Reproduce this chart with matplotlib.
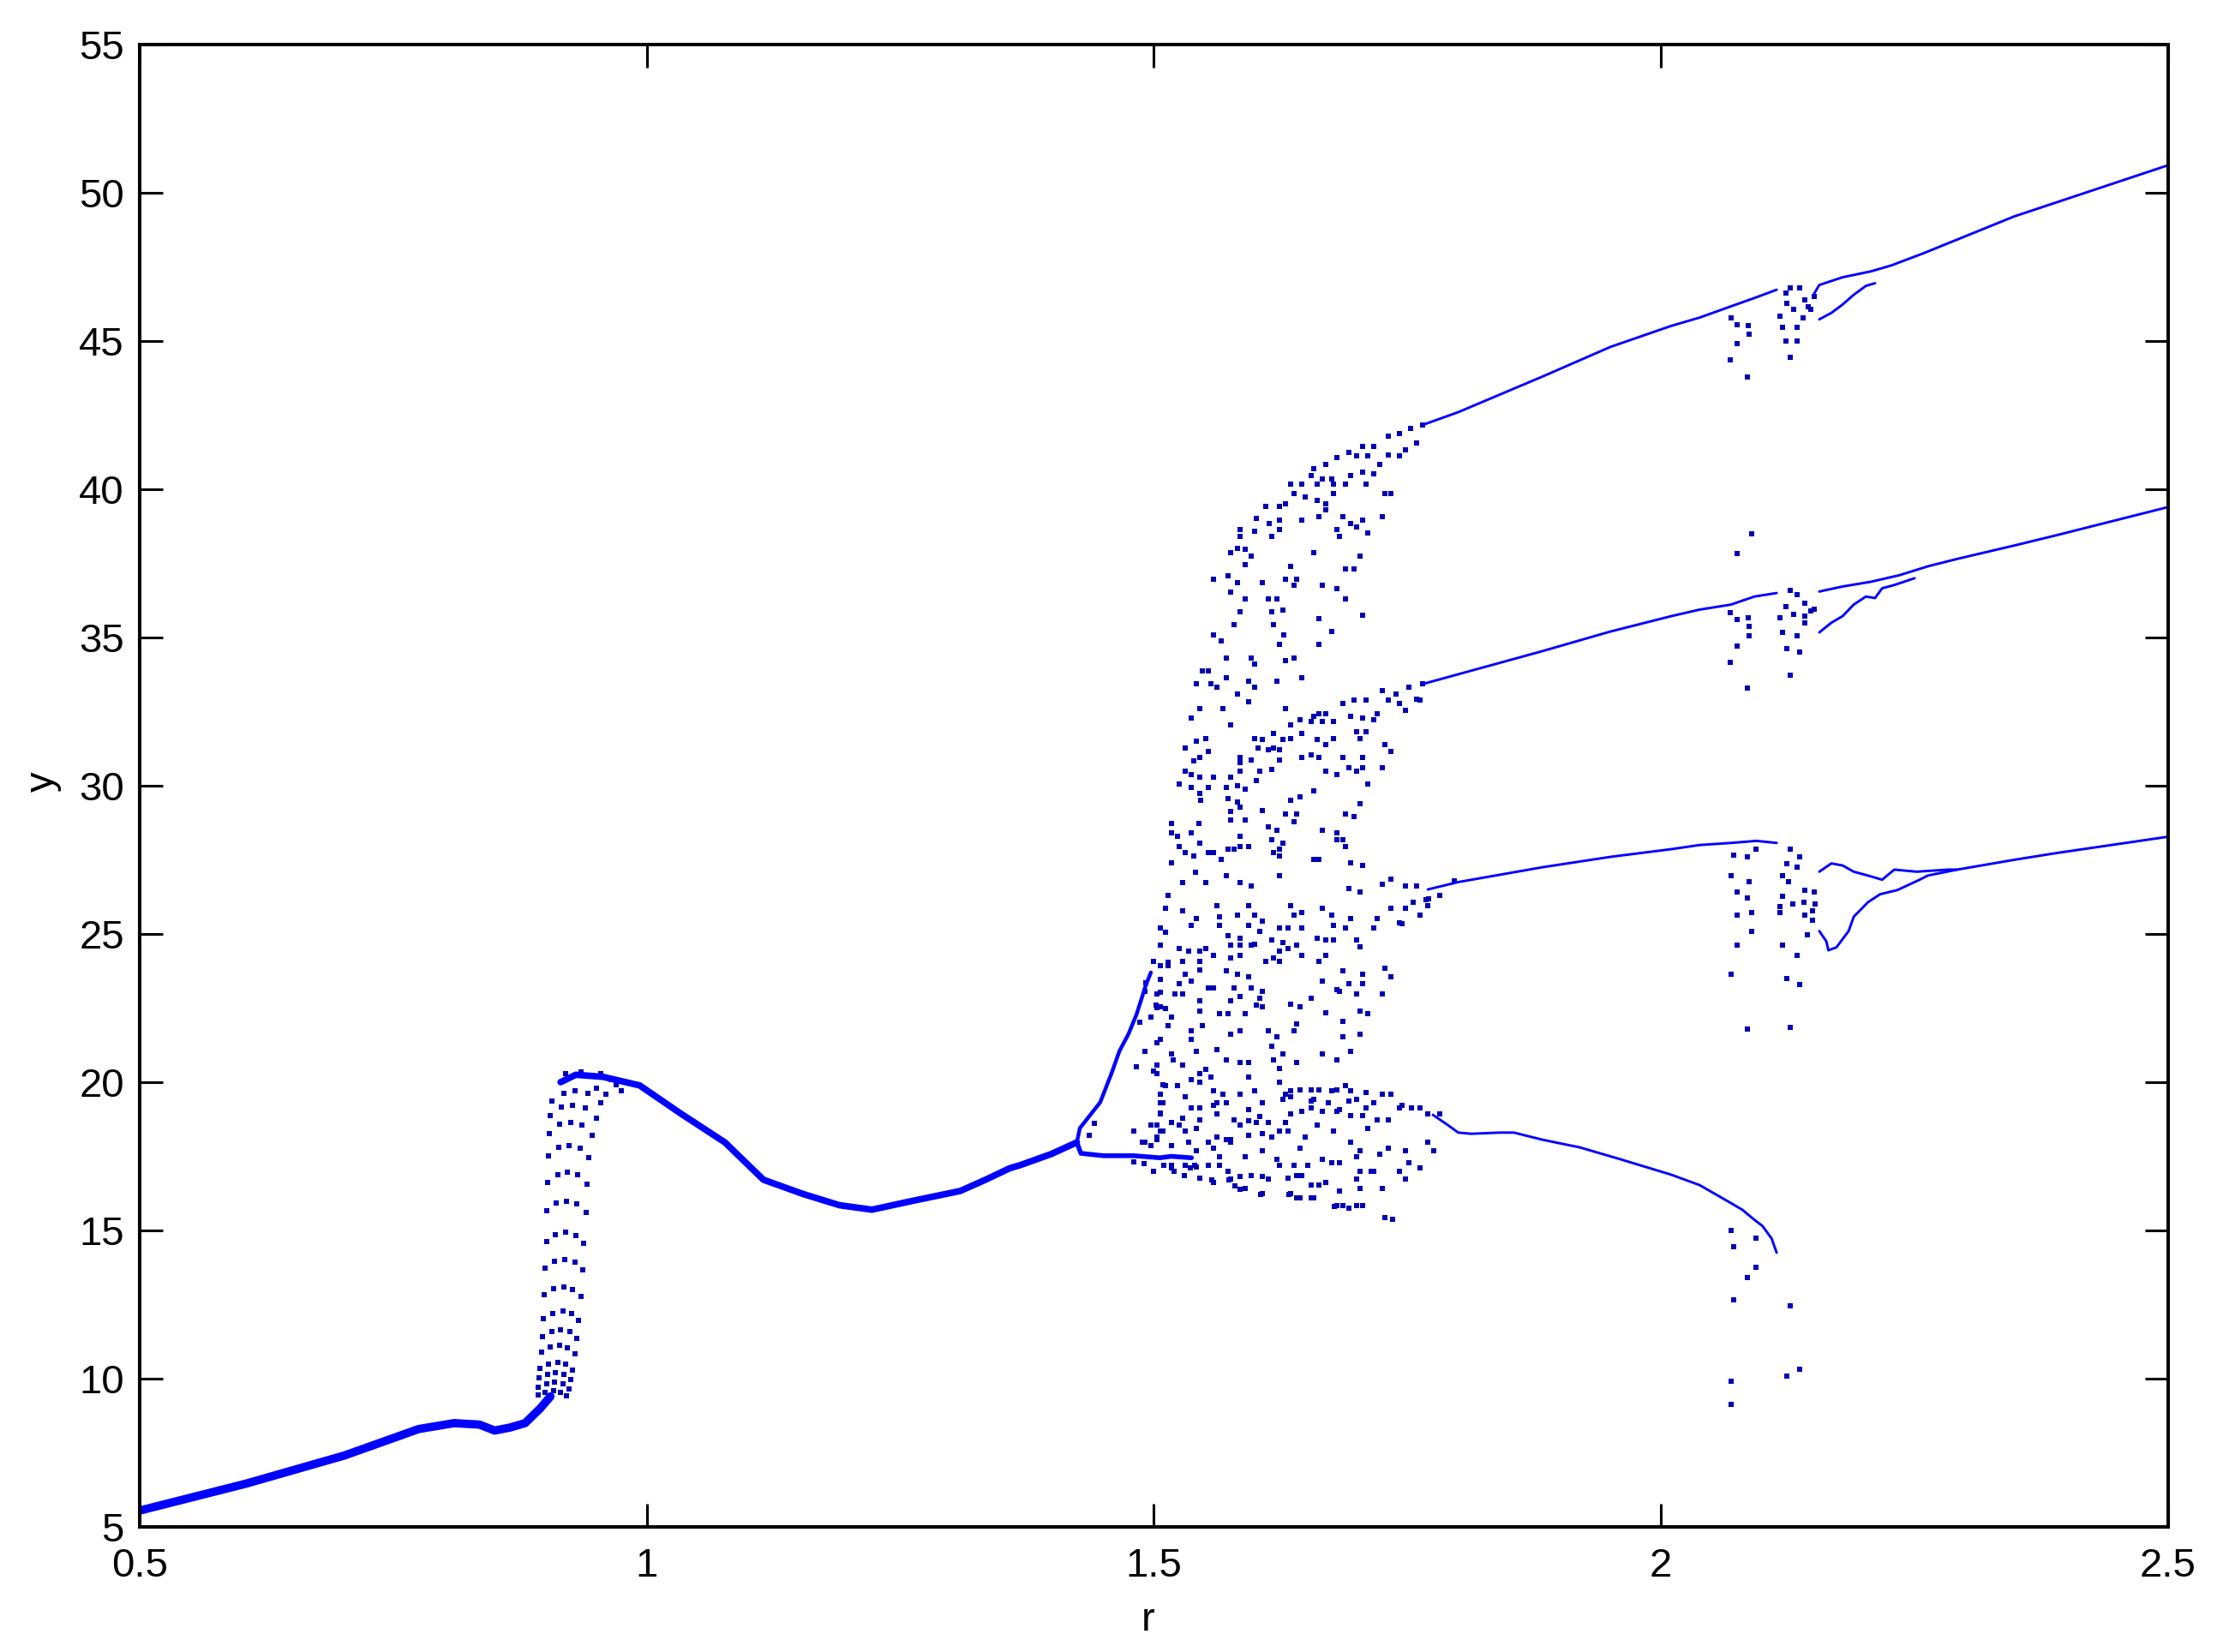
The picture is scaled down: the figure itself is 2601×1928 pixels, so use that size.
import matplotlib
matplotlib.use("Agg")
import matplotlib.pyplot as plt

plt.rcParams['font.family'] = ['Liberation Sans Narrow', 'Liberation Sans', 'DejaVu Sans']

# ---------------- data (r, y) ----------------
# period-1 branch, thick part at small r
main_left = [(0.5, 5.55), (0.605, 6.46), (0.702, 7.41), (0.775, 8.30), (0.81, 8.50),
             (0.835, 8.45), (0.85, 8.25), (0.865, 8.35), (0.88, 8.50), (0.895, 9.0), (0.905, 9.4)]

# transient "ladder" of the steep rise near r = 0.9
ladder = [
    (0.893, 9.45), (0.900, 9.55), (0.908, 9.59), (0.915, 9.55), (0.921, 9.42),
    (0.893, 9.72), (0.901, 9.83), (0.909, 9.87), (0.917, 9.82), (0.923, 9.66),
    (0.894, 10.02), (0.902, 10.15), (0.910, 10.21), (0.918, 10.15), (0.925, 9.98),
    (0.895, 10.34), (0.903, 10.49), (0.912, 10.55), (0.920, 10.48), (0.927, 10.30),
    (0.896, 10.90), (0.905, 11.07), (0.914, 11.13), (0.922, 11.05), (0.929, 10.85),
    (0.897, 11.42), (0.906, 11.60), (0.915, 11.66), (0.924, 11.58), (0.931, 11.36),
    (0.898, 12.02), (0.907, 12.21), (0.917, 12.28), (0.926, 12.19), (0.933, 11.96),
    (0.899, 12.82), (0.908, 13.03), (0.918, 13.10), (0.927, 13.01), (0.935, 12.76),
    (0.900, 13.72), (0.909, 13.95), (0.919, 14.02), (0.929, 13.93), (0.937, 13.66),
    (0.901, 14.62), (0.910, 14.86), (0.920, 14.93), (0.930, 14.84), (0.938, 14.56),
    (0.901, 15.66), (0.911, 15.92), (0.921, 15.99), (0.931, 15.90), (0.940, 15.60),
    (0.902, 16.62), (0.912, 16.89), (0.922, 16.96), (0.932, 16.87), (0.941, 16.56),
    (0.903, 17.52), (0.913, 17.80), (0.923, 17.87), (0.934, 17.78), (0.943, 17.46),
    (0.904, 18.28), (0.914, 18.57), (0.925, 18.64), (0.936, 18.55), (0.946, 18.22),
    (0.905, 18.86), (0.916, 19.15), (0.927, 19.22), (0.939, 19.13), (0.950, 18.80),
    (0.906, 19.36), (0.918, 19.63), (0.929, 19.70), (0.942, 19.62), (0.955, 19.30),
    (0.920, 20.30), (0.935, 20.35), (0.945, 20.20), (0.955, 20.30), (0.965, 20.10),
    (0.970, 19.90), (0.950, 19.80), (0.960, 19.60), (0.975, 19.70),
]

# period-1 branch after the rise, up to the first split
main_mid = [(0.915, 20.0), (0.93, 20.25), (0.957, 20.18), (0.993, 19.89), (1.034, 18.93),
            (1.077, 17.97), (1.115, 16.71), (1.154, 16.23), (1.19, 15.85), (1.222, 15.70),
            (1.261, 15.99), (1.309, 16.33), (1.334, 16.71), (1.358, 17.10), (1.368, 17.20),
            (1.399, 17.58), (1.424, 17.97)]

split_low = [(1.424, 17.97), (1.428, 17.60), (1.45, 17.52), (1.48, 17.52), (1.506, 17.45),
             (1.517, 17.50), (1.537, 17.45)]
split_up = [(1.424, 17.97), (1.427, 18.45), (1.447, 19.32), (1.458, 20.28), (1.466, 21.05),
            (1.475, 21.63), (1.483, 22.30), (1.492, 23.27), (1.497, 23.70)]
split_dots = [(1.492, 23.36), (1.503, 22.98), (1.503, 22.50), (1.497, 22.20), (1.503, 21.34),
              (1.500, 20.38), (1.509, 19.90), (1.509, 19.30), (1.506, 18.95), (1.503, 18.55),
              (1.480, 18.35), (1.491, 17.97), (1.497, 17.87), (1.503, 18.16), (1.509, 18.35),
              (1.436, 18.20), (1.441, 18.60), (1.517, 17.10), (1.531, 17.20), (1.536, 17.10),
              (1.540, 17.20), (1.557, 16.70), (1.574, 16.70), (1.580, 16.50), (1.585, 16.40),
              (1.605, 16.20), (1.633, 16.20), (1.641, 16.10), (1.655, 16.10), (1.678, 15.80),
              (1.480, 17.30), (1.490, 17.25), (1.500, 17.00), (1.510, 17.20), (1.520, 17.00),
              (1.530, 16.85), (1.545, 16.75)]

# chaotic cloud, upper band
cloud_top = [
    (1.706, 41.45), (1.717, 41.45), (1.731, 41.78), (1.742, 41.89), (1.753, 42.06), (1.765, 42.17),
    (1.742, 41.12), (1.759, 41.56), (1.731, 41.17), (1.748, 41.34),
    (1.680, 41.06), (1.692, 41.23), (1.700, 41.12), (1.711, 41.12),
    (1.658, 40.68), (1.669, 40.84), (1.655, 40.46), (1.666, 40.35), (1.675, 40.35), (1.694, 40.46),
    (1.706, 40.57), (1.717, 40.51), (1.723, 40.84),
    (1.635, 40.18), (1.646, 40.18), (1.661, 40.18), (1.677, 40.18), (1.689, 40.18), (1.709, 40.18),
    (1.638, 39.85), (1.649, 39.74), (1.677, 39.85), (1.728, 39.85), (1.734, 39.85),
    (1.610, 39.41), (1.624, 39.41), (1.630, 39.52), (1.661, 39.63), (1.669, 39.52), (1.669, 39.30),
    (1.601, 39.02), (1.614, 38.85), (1.624, 38.96), (1.624, 38.63), (1.646, 38.96), (1.663, 39.07),
    (1.686, 39.07), (1.694, 38.85), (1.706, 38.96), (1.725, 39.07),
    (1.585, 38.63), (1.585, 38.41), (1.599, 38.58), (1.616, 38.41), (1.680, 38.63), (1.683, 38.41),
    (1.700, 38.74), (1.711, 38.52),
    (1.576, 37.86), (1.582, 38.02), (1.590, 37.97), (1.596, 37.75), (1.590, 37.47), (1.658, 37.86),
    (1.703, 37.75), (1.635, 37.41), (1.689, 37.30), (1.697, 37.30),
    (1.559, 36.97), (1.573, 37.08), (1.582, 36.86), (1.576, 36.53), (1.607, 36.86), (1.630, 36.97),
    (1.641, 36.97), (1.638, 36.75), (1.666, 36.75), (1.680, 36.64),
    (1.590, 36.31), (1.613, 36.31), (1.621, 36.31), (1.689, 36.31),
    (1.585, 35.87), (1.616, 35.87), (1.627, 35.92), (1.706, 35.75),
    (1.579, 35.42), (1.618, 35.42), (1.663, 35.64),
    (1.559, 35.09), (1.566, 34.87), (1.628, 35.09), (1.675, 35.20),
    (1.624, 34.76), (1.663, 34.76),
    (1.571, 34.32), (1.596, 34.32), (1.599, 34.10), (1.630, 34.21), (1.638, 34.32),
    (1.548, 33.87), (1.554, 33.87), (1.571, 33.65), (1.593, 33.54), (1.621, 33.54), (1.646, 33.65),
    (1.542, 33.43), (1.556, 33.43), (1.562, 33.32), (1.599, 33.32),
]

# chaotic cloud, middle band
cloud_mid = [
    (1.686, 32.77), (1.697, 32.88), (1.709, 32.88), (1.725, 33.21), (1.739, 33.10), (1.751, 33.32),
    (1.765, 33.43), (1.731, 32.88), (1.742, 32.77), (1.748, 32.55), (1.759, 32.93), (1.762, 32.88),
    (1.720, 32.44), (1.717, 32.22), (1.663, 32.44), (1.669, 32.44), (1.658, 32.33), (1.644, 32.22),
    (1.655, 32.16), (1.666, 32.16), (1.677, 32.16), (1.694, 32.33), (1.706, 32.27), (1.709, 31.83),
    (1.700, 31.83),
    (1.582, 33.10), (1.593, 32.83), (1.545, 32.60), (1.568, 32.60), (1.630, 32.60), (1.537, 32.27),
    (1.576, 32.05), (1.635, 32.05),
    (1.618, 31.77), (1.627, 31.55), (1.635, 31.60), (1.646, 31.77), (1.661, 31.55), (1.669, 31.39),
    (1.677, 31.60), (1.703, 31.60), (1.728, 31.39), (1.734, 31.17),
    (1.531, 31.28), (1.542, 31.50), (1.551, 31.60), (1.554, 31.17), (1.599, 31.60), (1.607, 31.55),
    (1.603, 31.28), (1.613, 31.22), (1.618, 31.28), (1.624, 31.22),
    (1.539, 30.83), (1.545, 30.94), (1.585, 30.94), (1.596, 30.88), (1.624, 30.88), (1.646, 30.94),
    (1.655, 31.05), (1.663, 30.94), (1.686, 30.94), (1.706, 30.94),
    (1.531, 30.50), (1.537, 30.39), (1.585, 30.50), (1.585, 30.78), (1.616, 30.56), (1.604, 30.50),
    (1.669, 30.50), (1.680, 30.39), (1.692, 30.61), (1.700, 30.50), (1.706, 30.61), (1.725, 30.61),
    (1.525, 30.06), (1.537, 29.95), (1.545, 30.28), (1.554, 29.95), (1.559, 30.28), (1.571, 29.95),
    (1.576, 30.28), (1.582, 30.00), (1.590, 29.89), (1.601, 30.17), (1.658, 29.84), (1.711, 30.06),
    (1.545, 29.73), (1.546, 29.51), (1.573, 29.56), (1.582, 29.45), (1.585, 29.28), (1.635, 29.51),
    (1.644, 29.62), (1.703, 29.39),
    (1.517, 28.73), (1.544, 28.73), (1.576, 29.12), (1.576, 28.84), (1.590, 28.84), (1.607, 29.17),
    (1.630, 29.06), (1.641, 29.06), (1.638, 28.79), (1.689, 29.06), (1.697, 28.95),
    (1.517, 28.40), (1.523, 28.29), (1.537, 28.40), (1.545, 28.07), (1.585, 28.29), (1.613, 28.62),
    (1.621, 28.51), (1.616, 28.18), (1.627, 28.07), (1.666, 28.51), (1.680, 28.40), (1.680, 28.18),
    (1.686, 28.18),
    (1.525, 27.96), (1.531, 27.74), (1.539, 27.63), (1.554, 27.74), (1.559, 27.74), (1.566, 27.52),
    (1.573, 27.85), (1.579, 27.85), (1.585, 27.96), (1.593, 27.96), (1.618, 27.74), (1.624, 27.85),
    (1.624, 27.63), (1.689, 27.96),
    (1.517, 27.41), (1.541, 27.07), (1.571, 26.96), (1.624, 26.96), (1.658, 27.52), (1.663, 27.52),
    (1.694, 27.41), (1.706, 27.30),
    (1.514, 26.29), (1.528, 26.73), (1.551, 26.73), (1.585, 26.73), (1.596, 26.63),
    (1.692, 26.52), (1.703, 26.41), (1.725, 26.69), (1.734, 26.85), (1.748, 26.63), (1.759, 26.63),
    (1.796, 26.80), (1.782, 26.30), (1.771, 26.19),
]

# chaotic cloud, lower-middle band
cloud_low = [
    (1.734, 25.87), (1.748, 25.87), (1.756, 26.06), (1.768, 26.16), (1.742, 25.39), (1.762, 25.63),
    (1.770, 25.96),
    (1.511, 25.87), (1.528, 25.77), (1.562, 25.96), (1.593, 25.96), (1.635, 25.96), (1.666, 25.87),
    (1.542, 25.53), (1.565, 25.58), (1.582, 25.63), (1.599, 25.63), (1.607, 25.43), (1.638, 25.63),
    (1.646, 25.72), (1.675, 25.63), (1.694, 25.53), (1.720, 25.53),
    (1.506, 25.19), (1.537, 25.29), (1.565, 25.29), (1.593, 25.29), (1.604, 25.10), (1.624, 25.19),
    (1.632, 25.19), (1.646, 25.19), (1.677, 25.29), (1.689, 25.19), (1.717, 25.19), (1.745, 25.34),
    (1.511, 25.05), (1.573, 24.95), (1.585, 24.86), (1.599, 24.66), (1.616, 24.81), (1.627, 24.71),
    (1.641, 24.62), (1.661, 24.86), (1.669, 24.81), (1.677, 24.81), (1.700, 24.81), (1.703, 24.57),
    (1.506, 24.62), (1.525, 24.52), (1.534, 24.42), (1.545, 24.42), (1.551, 24.52), (1.576, 24.62),
    (1.585, 24.62), (1.596, 24.62), (1.624, 24.42), (1.632, 24.52), (1.646, 24.28), (1.669, 24.28),
    (1.500, 24.08), (1.514, 24.04), (1.528, 24.08), (1.545, 24.08), (1.559, 24.28), (1.576, 24.18),
    (1.585, 24.28), (1.610, 24.08), (1.618, 24.18), (1.624, 24.08), (1.663, 24.08),
    (1.506, 23.94), (1.514, 23.94), (1.531, 23.65), (1.545, 23.80), (1.571, 23.75), (1.582, 23.65),
    (1.593, 23.55), (1.686, 23.75), (1.706, 23.65), (1.728, 23.84), (1.734, 23.55),
    (1.506, 23.46), (1.525, 23.32), (1.537, 23.41), (1.554, 23.17), (1.559, 23.17), (1.579, 23.17),
    (1.596, 23.17), (1.607, 23.07), (1.666, 23.41), (1.680, 23.12), (1.692, 23.32), (1.706, 23.32),
    (1.491, 23.07), (1.506, 23.03), (1.521, 22.98), (1.528, 22.98), (1.585, 22.88), (1.604, 22.83),
    (1.655, 22.83), (1.683, 23.07), (1.700, 22.98), (1.725, 22.98),
    (1.502, 22.59), (1.506, 22.54), (1.511, 22.49), (1.545, 22.74), (1.576, 22.74), (1.601, 22.59),
    (1.607, 22.54), (1.635, 22.64), (1.644, 22.54),
    (1.497, 22.20), (1.517, 22.20), (1.545, 22.40), (1.565, 22.30), (1.573, 22.30), (1.590, 22.30),
    (1.669, 22.35), (1.703, 22.40), (1.711, 22.30),
    (1.486, 22.01), (1.514, 21.92), (1.537, 21.73), (1.548, 21.92), (1.585, 21.73), (1.613, 21.73),
    (1.641, 21.96), (1.686, 22.06), (1.638, 21.73),
    (1.506, 21.44), (1.537, 21.44), (1.576, 21.63), (1.621, 21.53), (1.686, 21.53), (1.703, 21.63),
    (1.491, 21.05), (1.542, 21.05), (1.562, 21.10), (1.616, 21.20), (1.694, 21.05),
    (1.517, 20.95), (1.571, 20.76), (1.585, 20.67), (1.593, 20.67), (1.618, 20.76), (1.627, 20.95),
    (1.641, 20.67), (1.666, 20.95), (1.680, 20.76),
    (1.483, 20.52), (1.503, 20.57), (1.519, 20.76), (1.528, 20.57), (1.545, 20.28), (1.551, 20.42),
    (1.556, 20.18), (1.624, 20.47), (1.593, 20.18),
    (1.503, 20.28), (1.511, 19.89), (1.523, 19.89), (1.537, 20.09), (1.545, 19.99), (1.624, 19.99),
    (1.689, 19.89),
]

# chaotic cloud, bottom band
cloud_bottom = [
    (1.506, 19.60), (1.531, 19.51), (1.559, 19.70), (1.568, 19.60), (1.585, 19.60), (1.599, 19.70),
    (1.630, 19.60), (1.635, 19.70), (1.644, 19.75), (1.655, 19.75), (1.663, 19.75), (1.675, 19.70),
    (1.680, 19.75), (1.694, 19.70), (1.709, 19.65), (1.725, 19.60), (1.734, 19.60),
    (1.506, 19.32), (1.537, 19.12), (1.545, 19.12), (1.562, 19.32), (1.571, 19.32), (1.593, 19.08),
    (1.607, 19.32), (1.627, 19.41), (1.635, 19.51), (1.655, 19.36), (1.658, 19.41), (1.672, 19.32),
    (1.683, 19.08), (1.692, 19.36), (1.700, 19.41), (1.709, 19.12), (1.717, 19.32), (1.745, 19.22),
    (1.506, 18.93), (1.528, 18.79), (1.545, 18.74), (1.559, 19.22), (1.562, 18.93), (1.579, 18.74),
    (1.593, 18.69), (1.604, 18.83), (1.613, 18.64), (1.630, 18.64), (1.635, 18.93), (1.646, 19.03),
    (1.655, 19.12), (1.666, 19.03), (1.680, 19.03), (1.694, 18.88), (1.706, 18.88), (1.720, 18.74),
    (1.731, 18.74), (1.742, 19.12), (1.754, 19.12), (1.762, 19.12), (1.770, 18.93), (1.782, 18.93),
    (1.770, 17.97), (1.776, 17.68), (1.762, 17.10), (1.748, 17.68), (1.731, 17.78), (1.742, 17.00),
    (1.748, 16.72), (1.751, 17.29), (1.717, 17.00),
    (1.497, 18.55), (1.506, 18.35), (1.517, 18.64), (1.525, 18.55), (1.531, 18.35), (1.542, 18.45),
    (1.554, 17.97), (1.562, 18.16), (1.571, 18.06), (1.576, 18.06), (1.585, 18.55), (1.593, 18.21),
    (1.601, 18.64), (1.607, 18.26), (1.616, 18.16), (1.624, 18.35), (1.632, 18.35), (1.649, 18.16),
    (1.661, 18.55), (1.677, 18.35), (1.694, 17.97), (1.703, 17.68), (1.711, 18.45), (1.723, 17.58),
    (1.489, 17.97), (1.503, 18.06), (1.517, 17.87), (1.534, 17.97), (1.542, 17.68), (1.559, 17.78),
    (1.565, 17.49), (1.576, 17.97), (1.590, 17.49), (1.607, 17.68), (1.621, 17.39), (1.624, 17.20),
    (1.638, 17.20), (1.644, 17.78), (1.652, 17.20), (1.666, 17.39), (1.675, 17.29), (1.683, 17.29),
    (1.700, 17.49), (1.703, 17.00), (1.714, 17.00),
    (1.517, 17.20), (1.531, 17.20), (1.542, 17.15), (1.554, 17.20), (1.565, 17.20), (1.573, 17.00),
    (1.585, 16.81), (1.590, 16.43), (1.596, 16.86), (1.607, 16.81), (1.613, 16.72), (1.632, 16.76),
    (1.641, 16.86), (1.646, 16.86), (1.655, 16.52), (1.663, 16.52), (1.669, 16.62), (1.683, 16.33),
    (1.700, 16.72), (1.703, 16.43), (1.725, 16.43),
    (1.559, 16.62), (1.576, 16.72), (1.607, 16.23), (1.635, 16.23), (1.644, 16.09), (1.658, 16.09),
    (1.680, 15.85), (1.686, 15.85), (1.692, 15.75), (1.700, 15.85), (1.706, 15.85), (1.728, 15.42),
    (1.735, 15.37),
]

# period-4 branches (thin lines)
top_a = [(1.765, 42.17), (1.80, 42.60), (1.883, 43.80), (1.95, 44.80), (2.01, 45.51),
         (2.038, 45.79), (2.069, 46.17), (2.092, 46.45), (2.114, 46.73)]
top_b = [(2.151, 46.60), (2.156, 46.89), (2.179, 47.15), (2.207, 47.35), (2.227, 47.55),
         (2.258, 47.95), (2.348, 49.20), (2.5, 50.93)]
top_c = [(2.156, 45.73), (2.168, 45.95), (2.179, 46.23), (2.190, 46.56), (2.202, 46.86),
         (2.211, 46.95)]

mid_a = [(1.765, 33.43), (1.883, 34.54), (1.95, 35.20), (2.01, 35.72), (2.038, 35.94),
         (2.069, 36.11), (2.092, 36.38), (2.114, 36.50)]
mid_b = [(2.156, 36.55), (2.179, 36.72), (2.207, 36.88), (2.235, 37.10), (2.263, 37.40),
         (2.292, 37.65), (2.348, 38.10), (2.39, 38.45), (2.5, 39.40)]
mid_c = [(2.156, 35.17), (2.168, 35.50), (2.179, 35.72), (2.190, 36.11), (2.202, 36.38),
         (2.211, 36.33), (2.218, 36.66), (2.230, 36.77), (2.25, 37.00)]

low_a = [(1.77, 26.50), (1.80, 26.75), (1.883, 27.25), (1.95, 27.60), (2.01, 27.86),
         (2.038, 28.00), (2.069, 28.07), (2.094, 28.14), (2.114, 28.07)]
low_b = [(2.156, 27.10), (2.168, 27.38), (2.179, 27.31), (2.190, 27.10), (2.204, 26.97),
         (2.218, 26.83), (2.230, 27.17), (2.252, 27.10), (2.283, 27.17), (2.292, 27.17),
         (2.348, 27.50), (2.39, 27.73), (2.5, 28.28)]
low_c = [(2.156, 25.10), (2.163, 24.75), (2.165, 24.45), (2.173, 24.55), (2.185, 25.10),
         (2.190, 25.58), (2.204, 26.07), (2.216, 26.34), (2.233, 26.48), (2.255, 26.83),
         (2.263, 26.97), (2.292, 27.17)]

bot_a = [(1.775, 18.90), (1.79, 18.55), (1.80, 18.30), (1.813, 18.26), (1.841, 18.30),
         (1.855, 18.30), (1.883, 18.06), (1.92, 17.80), (1.96, 17.40), (2.01, 16.88),
         (2.038, 16.53), (2.066, 15.98), (2.08, 15.70), (2.092, 15.36), (2.10, 15.15),
         (2.109, 14.73), (2.114, 14.25)]

# scattered points inside the window near r = 2.1
window_dots = [
    (2.069, 45.79), (2.075, 45.56), (2.086, 45.51), (2.087, 45.23), (2.075, 44.90), (2.068, 44.35),
    (2.085, 43.80), (2.117, 45.84), (2.120, 45.45), (2.123, 45.01), (2.134, 45.01), (2.127, 44.46),
    (2.134, 45.45), (2.124, 46.28), (2.127, 46.78), (2.137, 46.78), (2.123, 46.62), (2.131, 46.06),
    (2.140, 45.79), (2.142, 46.39), (2.145, 46.17), (2.151, 46.50), (2.148, 46.06),
    (2.068, 35.83), (2.075, 35.61), (2.086, 35.66), (2.087, 35.39), (2.087, 35.06), (2.075, 34.72),
    (2.068, 34.17), (2.085, 33.29), (2.117, 35.66), (2.120, 35.17), (2.124, 34.61), (2.137, 34.50),
    (2.127, 33.73), (2.134, 35.06), (2.123, 36.05), (2.127, 36.60), (2.134, 36.44), (2.142, 36.16),
    (2.148, 35.89), (2.142, 35.72), (2.151, 35.94), (2.131, 35.77), (2.142, 35.50),
    (2.089, 38.49), (2.075, 37.82),
    (2.072, 27.66), (2.085, 27.59), (2.094, 27.86), (2.127, 27.86), (2.137, 27.59), (2.124, 27.38),
    (2.134, 27.24), (2.069, 26.97), (2.087, 26.76), (2.120, 26.97), (2.126, 26.76), (2.075, 26.41),
    (2.085, 26.21), (2.089, 25.72), (2.075, 25.65), (2.117, 25.93), (2.117, 25.72), (2.120, 26.28),
    (2.130, 26.00), (2.089, 25.10), (2.075, 24.62), (2.120, 24.62), (2.134, 24.27), (2.069, 23.65),
    (2.124, 23.51), (2.137, 23.30), (2.085, 21.78), (2.127, 21.85),
    (2.142, 26.48), (2.151, 26.41), (2.141, 26.07), (2.152, 26.00), (2.142, 25.65), (2.149, 25.79),
    (2.149, 25.45), (2.144, 24.96),
    (2.069, 15.01), (2.072, 14.46), (2.094, 14.73), (2.094, 13.77), (2.085, 13.42), (2.072, 12.66),
    (2.127, 12.45), (2.124, 10.10), (2.137, 10.31), (2.069, 9.90), (2.069, 9.14),
]

x_ticks = [0.5, 1, 1.5, 2, 2.5]
x_tick_labels = ['0.5', '1', '1.5', '2', '2.5']
y_ticks = [5, 10, 15, 20, 25, 30, 35, 40, 45, 50, 55]

# ---------------- drawing ----------------
LINE = '#0000ff'
DOT = '#0000b4'

fig = plt.figure(figsize=(26.01, 19.28), dpi=100)
ax = fig.add_axes([0.06267, 0.07573, 0.91003, 0.89730])


def xs(pts):
    return [p[0] for p in pts]


def ys(pts):
    return [p[1] for p in pts]


thick = [(main_left, 7.0), (main_mid, 5.5), (split_low, 4.0), (split_up, 3.2)]
for pts, lw in thick:
    ax.plot(xs(pts), ys(pts), color=LINE, lw=lw, solid_capstyle='round', solid_joinstyle='round')

thin = [top_a, top_b, top_c, mid_a, mid_b, mid_c, low_a, low_b, low_c, bot_a]
for pts in thin:
    ax.plot(xs(pts), ys(pts), color=LINE, lw=2.1, solid_capstyle='round', solid_joinstyle='round')

for pts in [ladder, split_dots, cloud_top, cloud_mid, cloud_low, cloud_bottom, window_dots]:
    ax.scatter(xs(pts), ys(pts), s=15, marker='s', c=DOT, linewidths=0)

ax.set_xlim(0.5, 2.5)
ax.set_ylim(5, 55)
ax.set_xticks(x_ticks)
ax.set_xticklabels(x_tick_labels)
ax.set_yticks(y_ticks)
ax.tick_params(axis='both', direction='in', length=19.5, width=2.2, top=True, right=True,
               labelsize=34, colors='black')
ax.tick_params(axis='x', pad=17)
ax.tick_params(axis='y', pad=13)
for s in ax.spines.values():
    s.set_linewidth(2.9)
    s.set_color('black')

ax.set_xlabel('r', fontsize=34)
ax.set_ylabel('y', fontsize=34)
ax.xaxis.set_label_coords(0.497, -0.063)
ax.yaxis.set_label_coords(-0.0477, 0.503)
ax.xaxis.label.set_va('center')
ax.yaxis.label.set_va('center')

fig.savefig('out.png', dpi=100, facecolor='white')
